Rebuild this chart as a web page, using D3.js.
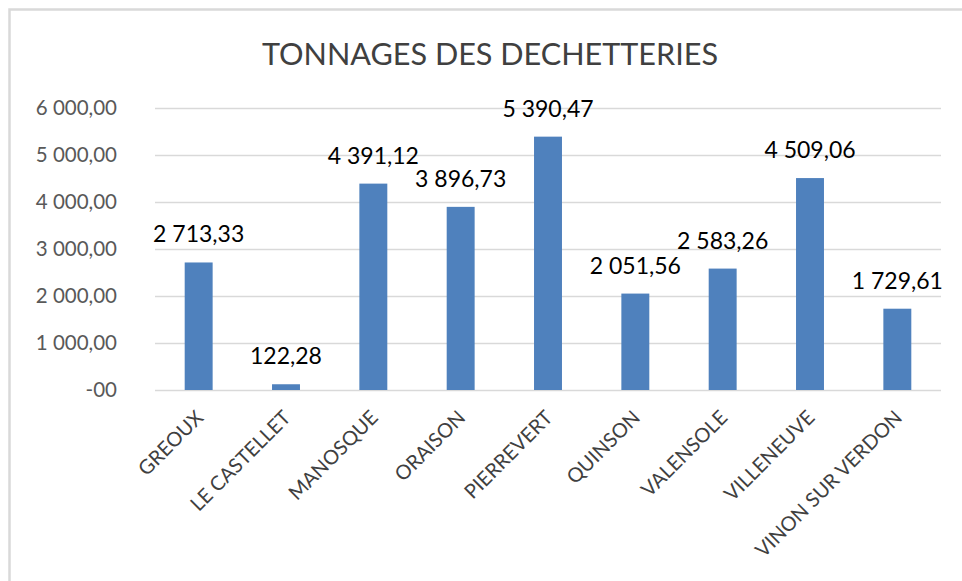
<!DOCTYPE html>
<html>
<head>
<meta charset="utf-8">
<script src="https://cdn.jsdelivr.net/npm/d3@7"></script>
<style>
  body{margin:0;background:#fff;}
  text{font-family:Lato,"Open Sans",sans-serif;}
</style>
</head>
<body>
<div id="chart"></div>
<script>
//chart data
var sites=["GREOUX","LE CASTELLET","MANOSQUE","ORAISON","PIERREVERT","QUINSON","VALENSOLE","VILLENEUVE","VINON SUR VERDON"];
var tonnages=[2713.33,122.28,4391.12,3896.73,5390.47,2051.56,2583.26,4509.06,1729.61];
var tickValues=[0,1000,2000,3000,4000,5000,6000];
var tickLabels=["-00","1 000,00","2 000,00","3 000,00","4 000,00","5 000,00","6 000,00"];
var title="TONNAGES DES DECHETTERIES";

var width=962,height=581;
var plot={left:155,right:941,top:108,bottom:390};

var svg=d3.select("#chart").append("svg")
	.attr("width",width)
	.attr("height",height);

//outer border (only top/left visible in the crop)
svg.append("rect")
	.attr("x",9.5).attr("y",9.5)
	.attr("width",1000).attr("height",1000)
	.attr("fill","none")
	.attr("stroke","#d9d9d9")
	.attr("stroke-width",2.5);

var x=d3.scaleBand().domain(sites).range([plot.left,plot.right]).paddingInner(0.68).paddingOuter(0.34);
var y=d3.scaleLinear().domain([0,6000]).range([plot.bottom,plot.top]);

var fr=d3.formatLocale({decimal:",",thousands:"\u00a0",grouping:[3],currency:["","€"]});
var fmt=fr.format(",.2f");

//gridlines + y labels
var yAxis=d3.axisLeft(y).tickValues(tickValues)
	.tickFormat(function(d,i){return tickLabels[i];})
	.tickSize(-(plot.right-plot.left)).tickPadding(38);
var gy=svg.append("g").attr("transform","translate("+plot.left+",0)").call(yAxis);
gy.select(".domain").remove();
gy.selectAll(".tick line").attr("stroke","#d9d9d9").attr("stroke-width",1.6);
gy.selectAll(".tick text").attr("fill","#595959").attr("font-size","20.5px");

//bars
svg.selectAll("rect.bar").data(tonnages).enter().append("rect")
	.attr("class","bar")
	.attr("x",function(d,i){return x(sites[i]);})
	.attr("y",function(d){return y(d);})
	.attr("width",x.bandwidth())
	.attr("height",function(d){return y(0)-y(d);})
	.attr("fill","#4f81bd");

//data labels
svg.selectAll("text.lbl").data(tonnages).enter().append("text")
	.attr("class","lbl")
	.attr("x",function(d,i){return x(sites[i])+x.bandwidth()/2;})
	.attr("y",function(d){return y(d)-20;})
	.attr("text-anchor","middle")
	.attr("font-size","23px")
	.attr("fill","#000")
	.text(function(d){return fmt(d);});

//x labels
var xAxis=d3.axisBottom(x).tickSize(0).tickPadding(0);
var gx=svg.append("g").attr("transform","translate(0,"+plot.bottom+")").call(xAxis);
gx.select(".domain").remove();
gx.selectAll(".tick text")
	.attr("fill","#404040")
	.attr("font-size","20px")
	.attr("text-anchor","end")
	.attr("dy","0.35em")
	.attr("y",0)
	.attr("transform","translate(1,24) rotate(-45)");

//title
svg.append("text")
	.attr("x",490).attr("y",65)
	.attr("text-anchor","middle")
	.attr("font-size","31px")
	.attr("fill","#404040")
	.attr("textLength",456)
	.attr("lengthAdjust","spacingAndGlyphs")
	.text(title);
</script>
</body>
</html>
